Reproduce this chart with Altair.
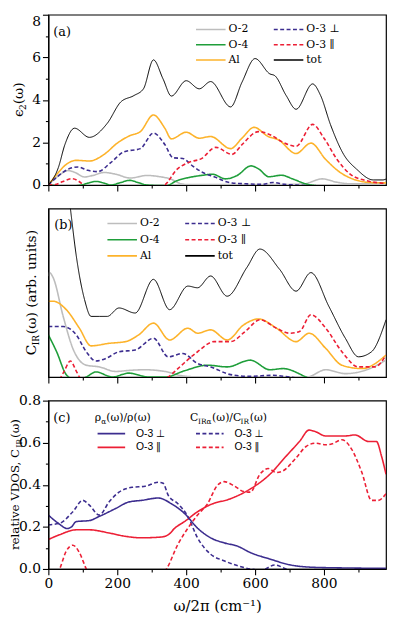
import altair as alt
import pandas as pd

SERIF = "DejaVu Serif"
SERIF_FB = "DejaVu Serif, DejaVu Sans"
SANS_FB = "Liberation Sans, DejaVu Sans"

X_DOMAIN = [0, 980]
X_TICKS = [0, 100, 200, 300, 400, 500, 600, 700, 800, 900]

GRAY = "#bdbdbd"
GREEN = "#1f9e3a"
ORANGE = "#fdb32b"
PURPLE = "#3c2d8f"
RED = "#ec1f35"
BLACK = "#000000"

# ---------------- panel (a): eps_2(omega) ----------------
# legend fills column by column: O-2, O-4, Al | O-3 perp, O-3 par, tot
A_SERIES = ["O-2", "O-4", "Al", "O-3 ⊥", "O-3 ∥", "tot"]
a_O2_w = [0, 29, 57, 76, 105, 129, 162, 195, 238, 286, 324, 357, 381, 405, 450, 550, 650, 740, 795, 838, 876, 930, 980]
a_O2_v = [0.0, 0.43, 0.68, 0.6, 0.38, 0.45, 0.59, 0.51, 0.33, 0.45, 0.39, 0.27, 0.08, 0.02, 0.02, 0.02, 0.02, 0.05, 0.29, 0.13, 0.06, 0.06, 0.09]
a_O4_w = [0, 60, 95, 115, 138, 160, 181, 210, 236, 260, 286, 343, 371, 410, 448, 476, 514, 548, 588, 610, 640, 676, 710, 748, 790, 850, 980]
a_O4_v = [0.0, -0.05, 0.0, 0.09, 0.17, 0.1, 0.0, 0.12, 0.22, 0.12, 0.0, -0.03, 0.19, 0.36, 0.46, 0.51, 0.29, 0.45, 0.9, 0.76, 0.39, 0.46, 0.28, 0.05, -0.05, -0.1, -0.1]
a_Al_w = [0, 29, 52, 81, 119, 162, 200, 238, 267, 305, 338, 357, 400, 438, 471, 529, 562, 597, 638, 667, 719, 762, 805, 848, 886, 933, 980]
a_Al_v = [0.0, 0.59, 0.97, 1.16, 1.13, 1.44, 1.97, 2.33, 2.51, 3.29, 2.67, 2.17, 2.48, 2.2, 2.28, 1.71, 2.2, 2.71, 2.28, 2.13, 1.48, 1.97, 1.2, 0.58, 0.27, 0.12, 0.1]
a_tot_w = [0, 29, 48, 76, 119, 171, 210, 248, 276, 305, 333, 357, 400, 438, 471, 529, 562, 600, 643, 657, 690, 719, 767, 790, 819, 857, 895, 943, 971, 980]
a_tot_v = [0.0, 0.82, 1.9, 2.67, 2.24, 2.9, 3.9, 4.2, 4.52, 5.88, 4.98, 4.18, 4.9, 4.52, 4.86, 3.67, 4.83, 5.94, 5.22, 5.14, 4.21, 3.56, 4.75, 4.21, 2.83, 1.44, 0.74, 0.24, 0.24, 0.28]
a_perp_w = [0, 29, 57, 86, 114, 143, 181, 219, 267, 305, 338, 362, 390, 419, 448, 486, 505, 533, 571, 619, 652, 686, 720, 800, 980]
a_perp_v = [0.0, 0.43, 0.74, 0.85, 0.69, 0.63, 1.05, 1.56, 1.71, 2.44, 1.9, 1.28, 1.25, 0.89, 0.59, 0.36, 0.22, 0.1, 0.06, 0.03, 0.12, 0.03, 0.0, -0.05, -0.05]
a_par_w = [0, 20, 40, 70, 88, 102, 130, 200, 300, 338, 371, 410, 443, 486, 533, 562, 610, 648, 676, 719, 767, 800, 838, 876, 924, 980]
a_par_v = [0.0, 0.02, 0.15, 0.3, 0.18, 0.0, -0.2, -0.3, -0.2, 0.0, 0.7, 1.08, 1.23, 1.77, 1.44, 1.9, 2.51, 2.33, 2.05, 1.82, 2.85, 2.2, 1.2, 0.51, 0.2, 0.08]

# ---------------- panel (b): C_IR(omega), arb. units ----------------
b_O2_w = [0, 3, 14, 43, 71, 110, 148, 195, 240, 281, 338, 395, 450, 600, 750, 805, 862, 920, 980]
b_O2_v = [0.6, 0.62, 0.59, 0.36, 0.17, 0.07, 0.06, 0.033, 0.04, 0.043, 0.033, 0.005, 0.0, 0.0, 0.0, 0.043, 0.02, 0.04, 0.1]
b_O4_w = [0, 24, 52, 80, 110, 138, 186, 233, 290, 340, 395, 462, 519, 586, 643, 681, 748, 800, 980]
b_O4_v = [0.25, 0.15, 0.014, -0.02, 0.0, 0.03, 0.0, 0.023, 0.0, 0.0, 0.037, 0.07, 0.06, 0.1, 0.043, 0.05, 0.0, -0.05, -0.05]
b_Al_w = [0, 14, 52, 90, 124, 176, 224, 262, 305, 352, 405, 433, 471, 519, 567, 610, 662, 719, 757, 805, 852, 910, 980]
b_Al_v = [0.45, 0.45, 0.4, 0.29, 0.185, 0.2, 0.21, 0.25, 0.32, 0.22, 0.29, 0.26, 0.28, 0.22, 0.31, 0.345, 0.29, 0.21, 0.26, 0.17, 0.07, 0.05, 0.13]
b_tot_w = [40, 55, 64, 81, 105, 124, 148, 171, 205, 252, 305, 352, 405, 433, 471, 519, 576, 614, 671, 719, 762, 814, 862, 900, 938, 980]
b_tot_v = [1.5, 1.15, 1.0, 0.72, 0.46, 0.36, 0.36, 0.36, 0.41, 0.38, 0.58, 0.4, 0.54, 0.53, 0.6, 0.48, 0.65, 0.76, 0.64, 0.51, 0.62, 0.42, 0.23, 0.12, 0.15, 0.34]
b_perp_w = [0, 43, 81, 110, 138, 167, 205, 252, 305, 348, 390, 433, 471, 529, 586, 652, 700, 800, 980]
b_perp_v = [0.3, 0.3, 0.25, 0.15, 0.095, 0.11, 0.15, 0.16, 0.23, 0.12, 0.14, 0.08, 0.06, 0.014, 0.004, 0.01, 0.0, -0.03, -0.03]
b_par_w = [0, 30, 45, 64, 80, 90, 120, 200, 300, 348, 376, 433, 481, 529, 571, 614, 662, 700, 729, 762, 805, 852, 900, 948, 980]
b_par_v = [-0.05, -0.02, 0.03, 0.095, 0.04, 0.0, -0.05, -0.08, -0.05, 0.0, 0.05, 0.15, 0.21, 0.21, 0.27, 0.34, 0.29, 0.26, 0.27, 0.37, 0.29, 0.15, 0.06, 0.06, 0.13]

# ---------------- panel (c): relative VDOS ----------------
# legend fills column by column: rho perp, rho par | CIR perp, CIR par
C_SERIES = ["rho perp", "rho par", "CIR perp", "CIR par"]
c_rho_perp_w = [0, 29, 55, 67, 81, 119, 148, 195, 233, 271, 319, 357, 395, 433, 471, 510, 548, 586, 643, 700, 767, 850, 980]
c_rho_perp_v = [0.256, 0.217, 0.192, 0.2, 0.225, 0.23, 0.25, 0.287, 0.318, 0.326, 0.337, 0.31, 0.264, 0.194, 0.148, 0.124, 0.109, 0.078, 0.047, 0.02, 0.008, 0.005, 0.003]
c_rho_par_w = [0, 33, 81, 119, 176, 224, 271, 329, 350, 367, 395, 433, 471, 529, 586, 643, 690, 729, 757, 776, 805, 862, 890, 929, 952, 967, 980]
c_rho_par_v = [0.14, 0.163, 0.186, 0.186, 0.171, 0.155, 0.148, 0.152, 0.165, 0.194, 0.225, 0.272, 0.306, 0.334, 0.38, 0.45, 0.536, 0.606, 0.66, 0.652, 0.632, 0.632, 0.637, 0.606, 0.606, 0.536, 0.45]
c_C_perp_w = [0, 33, 71, 100, 119, 148, 176, 205, 243, 281, 319, 333, 348, 376, 405, 433, 471, 510, 548, 586, 620, 657, 690, 750, 980]
c_C_perp_v = [0.21, 0.217, 0.272, 0.326, 0.303, 0.256, 0.318, 0.365, 0.388, 0.393, 0.412, 0.407, 0.35, 0.31, 0.249, 0.148, 0.07, 0.039, 0.016, 0.0, -0.005, 0.019, 0.0, -0.03, -0.03]
c_C_par_w = [0, 20, 33, 52, 71, 90, 110, 130, 200, 300, 343, 376, 405, 433, 462, 490, 510, 538, 567, 586, 614, 638, 662, 681, 719, 748, 776, 805, 824, 852, 881, 910, 938, 957, 980]
c_C_par_v = [-0.1, -0.05, 0.0, 0.085, 0.113, 0.078, 0.0, -0.06, -0.1, -0.06, 0.0, 0.117, 0.194, 0.256, 0.31, 0.396, 0.415, 0.396, 0.368, 0.365, 0.45, 0.477, 0.458, 0.466, 0.528, 0.582, 0.598, 0.59, 0.595, 0.614, 0.567, 0.458, 0.326, 0.326, 0.357]


def long_df(series):
    rows = []
    for name, ws, vs in series:
        for w, v in zip(ws, vs):
            rows.append({"w": w, "v": v, "s": name})
    return pd.DataFrame(rows)


df_a = long_df([("O-2", a_O2_w, a_O2_v), ("O-4", a_O4_w, a_O4_v), ("Al", a_Al_w, a_Al_v),
                ("O-3 ⊥", a_perp_w, a_perp_v), ("O-3 ∥", a_par_w, a_par_v), ("tot", a_tot_w, a_tot_v)])
df_b = long_df([("O-2", b_O2_w, b_O2_v), ("O-4", b_O4_w, b_O4_v), ("Al", b_Al_w, b_Al_v),
                ("O-3 ⊥", b_perp_w, b_perp_v), ("O-3 ∥", b_par_w, b_par_v), ("tot", b_tot_w, b_tot_v)])
df_c = long_df([("rho perp", c_rho_perp_w, c_rho_perp_v), ("rho par", c_rho_par_w, c_rho_par_v),
                ("CIR perp", c_C_perp_w, c_C_perp_v), ("CIR par", c_C_par_w, c_C_par_v)])

SOLID = [1, 0]
DASH = [4, 2.5]
A_COLORS = [GRAY, GREEN, ORANGE, PURPLE, RED, BLACK]
A_DASHES = [SOLID, SOLID, SOLID, DASH, DASH, SOLID]
C_COLORS = [PURPLE, RED, PURPLE, RED]
C_DASHES = [SOLID, SOLID, DASH, DASH]

W, HA, HB, HC = 343, 173, 171, 171

# ---------------- text helpers ----------------
CW = {' ': 0.318, '(': 0.39, ')': 0.39, '/': 0.337, ',': 0.318, '.': 0.318,
      'C': 0.733, 'I': 0.473, 'R': 0.77, 'V': 0.77, 'D': 0.83, 'O': 0.82, 'S': 0.685,
      'a': 0.596, 'b': 0.64, 'e': 0.592, 'i': 0.32, 'l': 0.32, 'n': 0.644, 'r': 0.478,
      's': 0.513, 't': 0.402, 'u': 0.644, 'v': 0.565, 'ω': 0.78, 'α': 0.66, 'ρ': 0.62,
      'ϵ': 0.5, '2': 0.636}


def tw(s, size):
    return sum(CW.get(c, 0.6) for c in s) * size


ONE = pd.DataFrame({"k": [0]})


def label(text, x, y, size, angle=0, align="left", baseline="alphabetic", font=SERIF_FB):
    return alt.Chart(ONE).mark_text(text=text, font=font, fontSize=size, angle=angle,
                                    align=align, baseline=baseline, color="black").encode(
        x=alt.value(x), y=alt.value(y))


def vtext(pieces, xb, yc):
    total = sum(tw(t, sz) for t, sz, _ in pieces)
    y = yc + total / 2
    out = []
    for t, sz, sh in pieces:
        out.append(label(t, xb + sh, y, sz, angle=270))
        y -= tw(t, sz)
    return out


def htext(pieces, x0, yb):
    x = x0
    out = []
    for t, sz, sh in pieces:
        out.append(label(t, x, yb + sh, sz))
        x += tw(t, sz)
    return out


# ---------------- axes ----------------
MAJOR_X = "datum.value % 200 === 0"
AX_COMMON = dict(grid=False, domainColor="black", domainWidth=1.2, tickColor="black",
                 tickWidth=1.1, zindex=1, labelColor="black", labelFont=SERIF,
                 labelFontSize=14, labelPadding=2, labelFlush=False, labelOverlap=False)


def x_axis(show_labels):
    kw = dict(AX_COMMON)
    kw.update(values=X_TICKS,
              tickSize={"condition": {"test": MAJOR_X, "value": 6}, "value": 3})
    if show_labels:
        kw.update(labelExpr=f"{MAJOR_X} ? datum.label : ''", title="ω/2π (cm⁻¹)",
                  titleFont=SERIF, titleFontSize=15, titleFontWeight="normal",
                  titleColor="black", titlePadding=8)
    else:
        kw.update(labels=False, title=None)
    return alt.Axis(**kw)


ya = alt.Axis(**AX_COMMON, values=list(range(0, 9)), title=None,
              labelExpr="datum.value % 2 === 0 ? datum.label : ''",
              tickSize={"condition": {"test": "datum.value % 2 === 0", "value": 6}, "value": 3},
              labelBaseline={"condition": {"test": "datum.value === 8", "value": "top"}, "value": "middle"})
yb = alt.Axis(**AX_COMMON, values=[0, 1], title=None, ticks=False, labelExpr="'0'", labelOpacity=0)
yc = alt.Axis(**AX_COMMON, values=[round(i * 0.1, 1) for i in range(9)], title=None,
              labelExpr="round(datum.value * 10) % 2 === 0 ? format(datum.value, '.1f') : ''",
              tickSize={"condition": {"test": "round(datum.value * 10) % 2 === 0", "value": 6}, "value": 3})


def legend(x, y, h, rp, cp, sym, off, font, fsize, expr=None):
    kw = dict(orient="none", legendX=x, legendY=y, columns=2, columnPadding=cp, rowPadding=rp,
              clipHeight=h, symbolType="stroke", symbolSize=sym * sym, symbolStrokeWidth=1.6,
              labelOffset=off, labelFont=font, labelFontSize=fsize, labelColor="black",
              title=None, padding=0)
    if expr:
        kw["labelExpr"] = expr
    return alt.Legend(**kw)


def lines(df, domain, colors, dashes, ydom, yaxis, xaxis, leg):
    return alt.Chart(df).mark_line(interpolate="monotone", clip=True).encode(
        x=alt.X("w:Q", scale=alt.Scale(domain=X_DOMAIN, nice=False, zero=False), axis=xaxis),
        y=alt.Y("v:Q", scale=alt.Scale(domain=ydom, nice=False, zero=False), axis=yaxis),
        color=alt.Color("s:N", scale=alt.Scale(domain=domain, range=colors), legend=leg),
        strokeDash=alt.StrokeDash("s:N", scale=alt.Scale(domain=domain, range=dashes), legend=leg),
        strokeWidth=alt.condition("datum.s == 'tot'", alt.value(1.0), alt.value(1.6)),
    )


leg_a = legend(149, 8, 14, 1.5, 24, 30, 2, SERIF_FB, 11)
leg_b = legend(59, 7.5, 15, 1.5, 24, 30, 2, SERIF_FB, 11)
leg_c = legend(49, 27, 13, 1, 30, 28, 10, SANS_FB, 10.5,
               expr="indexof(datum.label, 'perp') >= 0 ? 'O-3 ⊥' : 'O-3 ∥'")

pa = alt.layer(
    lines(df_a, A_SERIES, A_COLORS, A_DASHES, [0, 8], ya, x_axis(False), leg_a),
    label("(a)", 5, 18, 13, baseline="middle"),
    *vtext([("ϵ", 14, 0), ("2", 9, 3), ("(ω)", 14, 0)], -26, HA / 2),
).properties(width=W, height=HA)

pb = alt.layer(
    lines(df_b, A_SERIES, A_COLORS, A_DASHES, [0, 1], yb, x_axis(False), leg_b),
    label("(b)", 6, 17, 13, baseline="middle"),
    *vtext([("C", 14, 0), ("IR", 9, 3), ("(ω) (arb. units)", 14, 0)], -13, HB / 2),
).properties(width=W, height=HB)

pc = alt.layer(
    lines(df_c, C_SERIES, C_COLORS, C_DASHES, [0, 0.8], yc, x_axis(True), leg_c),
    label("(c)", 5, 17.5, 13, baseline="middle"),
    *vtext([("relative VDOS, C", 12, 0), ("IR", 8, 3), ("(ω)", 12, 0)], -30, HC / 2),
    *htext([("ρ", 11, 0), ("α", 7.5, 2.5), ("(ω)/ρ(ω)", 11, 0)], 47, 21),
    *htext([("C", 11, 0), ("IRα", 7.5, 2.5), ("(ω)/C", 11, 0), ("IR", 7.5, 2.5), ("(ω)", 11, 0)], 144, 21),
).properties(width=W, height=HC)

chart = alt.vconcat(pa, pb, pc, spacing=8).resolve_scale(
    x="independent", y="independent", color="independent", strokeDash="independent"
).properties(padding=0, background="white").configure_view(stroke="black", strokeWidth=1.2)

chart.save("out.html", embed_options={"renderer": "svg", "actions": False})
